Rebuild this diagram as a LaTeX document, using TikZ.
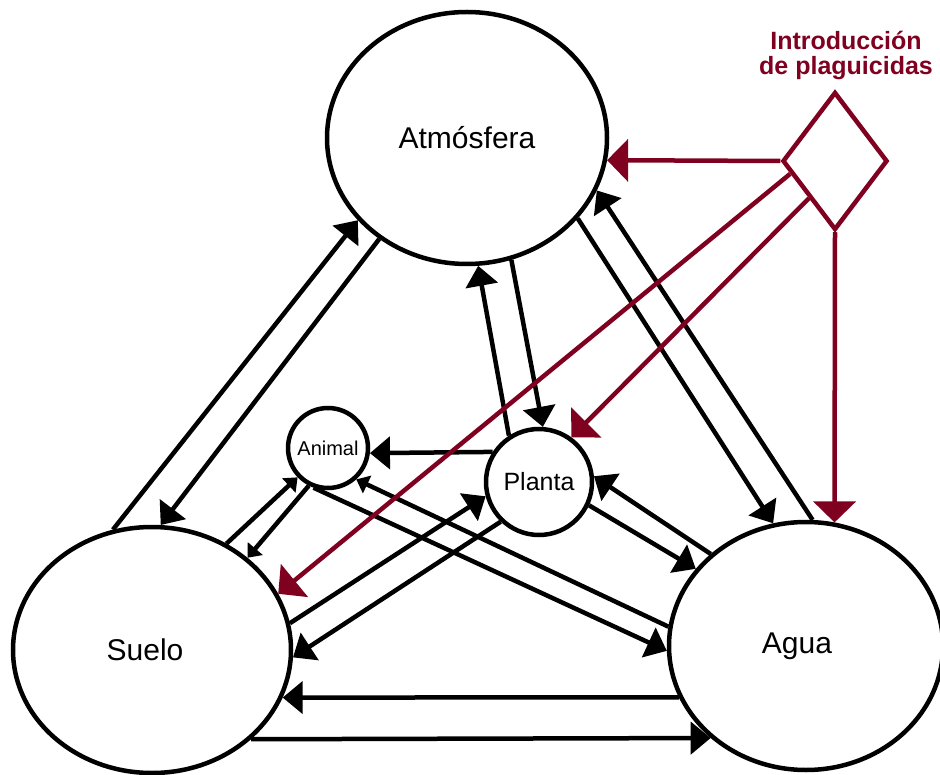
\documentclass[tikz,border=0pt]{standalone}
\usepackage{fontspec}
\setmainfont{Liberation Sans}
\usetikzlibrary{arrows.meta,shapes.geometric}
\definecolor{plagred}{RGB}{128,0,32}

\begin{document}
\begin{tikzpicture}[x=1pt,y=-1pt,every node/.style={align=center,inner sep=0pt},
  place/.style={draw,ellipse,fill=white,line width=4.5pt,font=\fontsize{30}{36}\selectfont},
  flow/.style={-{Triangle[length=20pt,width=32pt]},line width=4.5pt},
  flowsm/.style={-{Triangle[length=12pt,width=19pt]},line width=4.5pt},
  plag/.style={-{Triangle[length=21pt,width=42pt]},line width=4.5pt,draw=plagred,fill=plagred}]
\useasboundingbox (0,0) rectangle (940,775);
\node[place,minimum width=280pt,minimum height=252pt] (atm) at (467,138) {Atmósfera};
\node[place,minimum width=278pt,minimum height=246pt] (suelo) at (152,650) {Suelo\hspace*{14pt}};
\node[place,minimum width=274pt,minimum height=248pt] (agua) at (806,646) {Agua\hspace*{18pt}};
\node[draw,circle,fill=white,line width=4.5pt,minimum size=80pt,font=\fontsize{20}{24}\selectfont] (animal) at (328,448) {Animal};
\node[draw,circle,fill=white,line width=4.5pt,minimum size=106pt,font=\fontsize{25}{30}\selectfont] (planta) at (539,482) {Planta};
\node[draw=plagred,diamond,fill=white,line width=4.5pt,minimum width=105pt,minimum height=138pt] (pest) at (835,161) {};
\node[text=plagred,font=\bfseries\fontsize{25}{25}\selectfont] (titulo) at (846,55) {Introducción\\de plaguicidas};
\draw[flow] (suelo.108) -- (atm.217); \draw[flow] (atm.229) -- (suelo.86);
\draw[flow] (planta.123) -- (atm.275); \draw[flow] (atm.290) -- (planta.86);
\draw[flow] (agua.87) -- (atm.338); \draw[flow] (atm.324) -- (agua.105);
\draw[flow] (planta.147) -- (animal.353);
\draw[flow] (agua.136) -- (planta.6); \draw[flow] (planta.335) -- (agua.145);
\draw[flow] (animal.250) -- (agua.182); \draw[flowsm] (agua.172) -- (animal.312);
\draw[flowsm] (suelo.55) -- (animal.224); \draw[flowsm] (animal.243) -- (suelo.44);
\draw[flow] (suelo.11) -- (planta.195); \draw[flow] (planta.226) -- (suelo.357);
\draw[flow] (agua.202) -- (suelo.340); \draw[flow] (suelo.318) -- (agua.224);
\draw[plag] (pest.west) -- (atm.351);
\draw[plag] (pest.196) -- (suelo.24);
\draw[plag] (pest.235) -- (planta.54);
\draw[plag] (pest.south) -- (agua.77);
\end{tikzpicture}
\end{document}
